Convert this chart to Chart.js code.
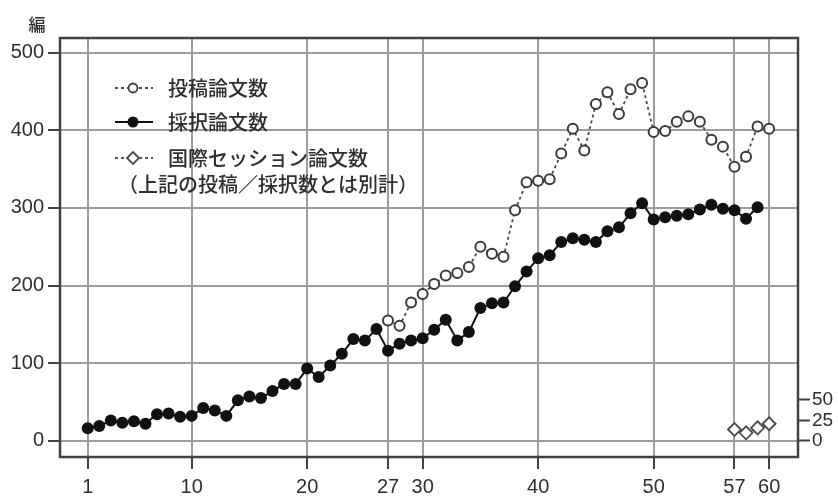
<!DOCTYPE html>
<html lang="ja">
<head>
<meta charset="utf-8">
<title>論文数の推移</title>
<script src="https://cdn.jsdelivr.net/npm/chart.js@4.4.1/dist/chart.umd.min.js"></script>
<style>
  html, body { margin: 0; padding: 0; background: #fff; }
  #wrap { width: 838px; height: 500px; position: relative; }
</style>
</head>
<body>
<div id="wrap"><canvas id="chart" width="838" height="500"></canvas></div>
<script>
/* ─── Data ─── */
const xTicks  = [1, 10, 20, 27, 30, 40, 50, 57, 60];
const yTicks  = [0, 100, 200, 300, 400, 500];
const y2Ticks = [0, 25, 50];

// 採択論文数: vol. 1 – 59
const acceptedFrom = 1;
const accepted = [
  16, 19, 26, 23, 25, 22, 34, 35, 31, 32,
  42, 39, 32, 52, 57, 55, 64, 73, 73, 93,
  82, 97, 112, 131, 129, 144, 116, 125, 129, 132,
  143, 156, 129, 140, 171, 177, 178, 199, 218, 235,
  239, 256, 261, 259, 256, 270, 275, 293, 306, 285,
  288, 290, 292, 298, 304, 299, 297, 286, 301
];

// 投稿論文数: vol. 27 – 60
const submittedFrom = 27;
const submitted = [
  155, 148, 178, 189, 202, 213, 216, 224, 250, 241,
  237, 297, 333, 335, 337, 370, 402, 374, 434, 449,
  421, 453, 461, 398, 399, 411, 418, 411, 388, 379,
  353, 366, 405, 402
];

// 国際セッション論文数 (right axis): vol. 57 – 60
const intlFrom = 57;
const intl = [14, 10, 16, 21];

const legendLabels = ["投稿論文数", "採択論文数", "国際セッション論文数"];
const legendNote = "（上記の投稿／採択数とは別計）";
const yTitle = "編";

/* ─── Styles ─── */
const FONT   = '"Liberation Sans", Arial, sans-serif';
const JFONT  = '"Noto Sans CJK JP", sans-serif';
const INK    = "#2e2e2e";
const GRID   = "#9c9c9c";
const FRAME  = "#424242";
const DASH   = [3, 3];

const toXY = (arr, from) => arr.map((v, i) => ({ x: from + i, y: v }));

/* ─── Plugins: frame + legend + y title ─── */
const framePlugin = {
  id: "frame",
  beforeDatasetsDraw(chart) {
    const { ctx, chartArea: a } = chart;
    ctx.save();
    ctx.strokeStyle = FRAME;
    ctx.lineWidth = 2.5;
    ctx.strokeRect(a.left, a.top, a.right - a.left, a.bottom - a.top);
    ctx.restore();
  }
};

const legendPlugin = {
  id: "insideLegend",
  afterDraw(chart) {
    const ctx = chart.ctx;
    const x0 = 115, x1 = 153, mx = 133, tx = 168;
    const rows = [88, 122, 158];
    ctx.save();

    // row 1: dashed + open circle
    ctx.strokeStyle = "#4a4a4a"; ctx.lineWidth = 1.8; ctx.setLineDash(DASH);
    ctx.beginPath(); ctx.moveTo(x0, rows[0]); ctx.lineTo(x1, rows[0]); ctx.stroke();
    ctx.setLineDash([]);
    ctx.fillStyle = "#fff"; ctx.strokeStyle = "#3a3a3a";
    ctx.beginPath(); ctx.arc(mx, rows[0], 4.5, 0, Math.PI * 2); ctx.fill(); ctx.stroke();

    // row 2: solid + filled circle
    ctx.strokeStyle = "#111"; ctx.lineWidth = 1.8;
    ctx.beginPath(); ctx.moveTo(x0, rows[1]); ctx.lineTo(x1, rows[1]); ctx.stroke();
    ctx.fillStyle = "#111";
    ctx.beginPath(); ctx.arc(mx, rows[1], 5.5, 0, Math.PI * 2); ctx.fill();

    // row 3: dashed + diamond
    ctx.strokeStyle = "#555"; ctx.lineWidth = 1.8; ctx.setLineDash(DASH);
    ctx.beginPath(); ctx.moveTo(x0, rows[2]); ctx.lineTo(x1, rows[2]); ctx.stroke();
    ctx.setLineDash([]);
    ctx.fillStyle = "#fff"; ctx.strokeStyle = "#4a4a4a";
    ctx.beginPath();
    ctx.moveTo(mx, rows[2] - 6); ctx.lineTo(mx + 6, rows[2]);
    ctx.lineTo(mx, rows[2] + 6); ctx.lineTo(mx - 6, rows[2]); ctx.closePath();
    ctx.fill(); ctx.stroke();

    // texts
    ctx.fillStyle = INK;
    ctx.font = "500 20px " + JFONT;
    ctx.textBaseline = "middle";
    ctx.textAlign = "left";
    legendLabels.forEach((t, i) => ctx.fillText(t, tx, rows[i]));
    ctx.fillText(legendNote, 118, 184);

    // y title
    ctx.font = "500 17px " + JFONT;
    ctx.textAlign = "center";
    ctx.fillText(yTitle, 37, 25);
    ctx.restore();
  }
};

/* ─── Chart ─── */
new Chart(document.getElementById("chart"), {
  type: "line",
  data: {
    datasets: [
      {
        label: legendLabels[0],
        data: toXY(submitted, submittedFrom),
        borderColor: "#4a4a4a", borderWidth: 1.8, borderDash: DASH,
        pointRadius: 5, pointBorderWidth: 2,
        pointBorderColor: "#3a3a3a", pointBackgroundColor: "#fff",
        yAxisID: "y", order: 2
      },
      {
        label: legendLabels[1],
        data: toXY(accepted, acceptedFrom),
        borderColor: "#111", borderWidth: 2,
        pointRadius: 6, pointBorderWidth: 0,
        pointBackgroundColor: "#111",
        yAxisID: "y", order: 1
      },
      {
        label: legendLabels[2],
        data: toXY(intl, intlFrom),
        borderColor: "#555", borderWidth: 1.8, borderDash: DASH,
        pointStyle: "rectRot", pointRadius: 6.5, pointBorderWidth: 1.8,
        pointBorderColor: "#4a4a4a", pointBackgroundColor: "#fff",
        yAxisID: "y2", order: 3
      }
    ]
  },
  options: {
    responsive: false,
    animation: false,
    devicePixelRatio: 1,
    layout: { padding: { top: 38, left: 0, right: 0, bottom: 0 } },
    plugins: { legend: { display: false }, tooltip: { enabled: false } },
    scales: {
      x: {
        type: "linear", min: -1.4, max: 62.5,
        afterBuildTicks: s => { s.ticks = xTicks.map(v => ({ value: v })); },
        afterFit: s => { s.height = 43; },
        grid: { color: GRID, lineWidth: 2, tickColor: FRAME, tickLength: 12, tickWidth: 2 },
        border: { display: false },
        ticks: { color: INK, font: { family: FONT, size: 20 }, padding: 6, maxRotation: 0, autoSkip: false }
      },
      y: {
        position: "left", min: -21, max: 519,
        afterBuildTicks: s => { s.ticks = yTicks.map(v => ({ value: v })); },
        afterFit: s => { s.width = 60; },
        grid: { color: GRID, lineWidth: 2, tickColor: FRAME, tickLength: 12, tickWidth: 2 },
        border: { display: false },
        ticks: { color: INK, font: { family: FONT, size: 20 }, padding: 4 }
      },
      y2: {
        position: "right", min: -19.5, max: 491,
        afterBuildTicks: s => { s.ticks = y2Ticks.map(v => ({ value: v })); },
        afterFit: s => { s.width = 40; },
        grid: { drawOnChartArea: false, tickColor: FRAME, tickLength: 12, tickWidth: 2 },
        border: { display: false },
        ticks: { color: INK, font: { family: FONT, size: 19 }, padding: 2 }
      }
    }
  },
  plugins: [framePlugin, legendPlugin]
});
</script>
</body>
</html>
